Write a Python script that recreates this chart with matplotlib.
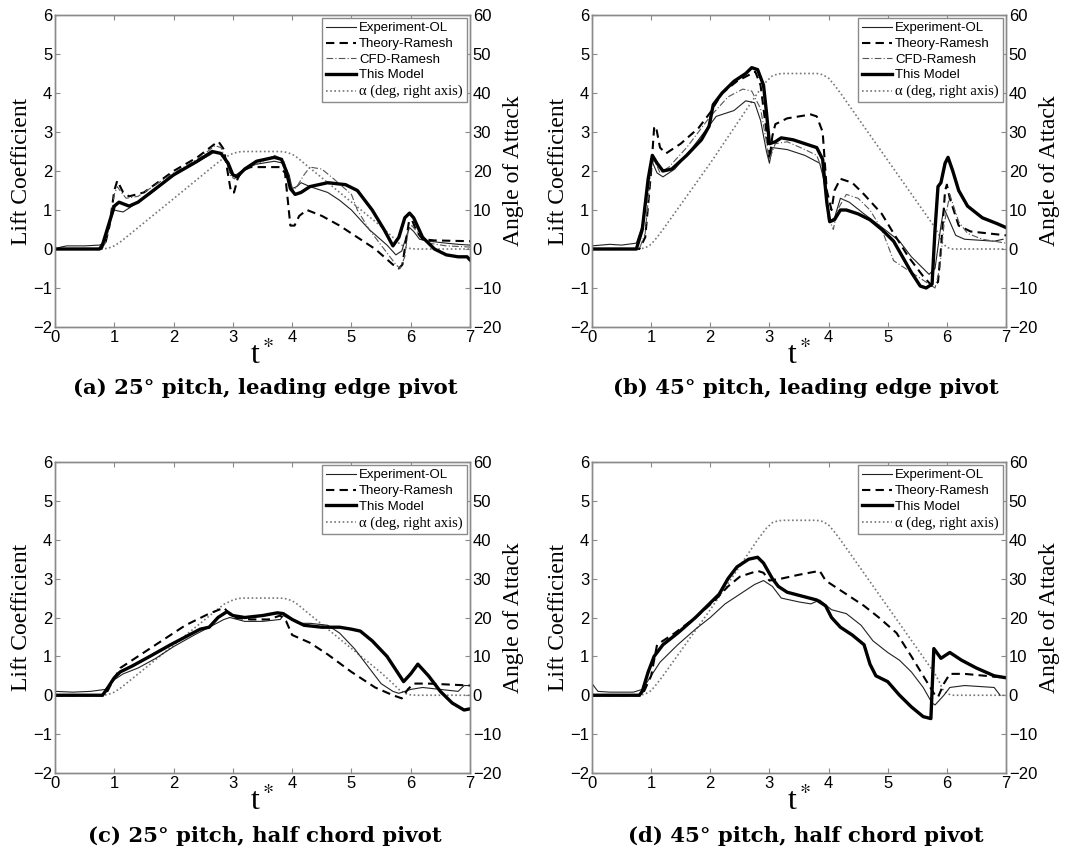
import matplotlib
matplotlib.use("Agg")
import matplotlib.pyplot as plt

# ---------------- data (t*, value) ----------------
# Panel (a): 25 deg pitch, leading edge pivot
a_exp_t = [0, 0.1, 0.2, 0.5, 0.75, 0.82, 0.9, 1.0, 1.08, 1.15, 1.3, 1.6, 2.0, 2.3, 2.6, 2.7, 2.8, 2.9, 2.95, 3.05, 3.15, 3.3, 3.5, 3.7, 3.85, 3.95, 4.0, 4.08, 4.15, 4.3, 4.6, 4.8, 5.0, 5.3, 5.6, 5.75, 5.85, 5.92, 5.98, 6.05, 6.15, 6.3, 6.6, 6.8, 7.0]
a_exp_v = [0.0, 0.05, 0.08, 0.08, 0.1, 0.15, 0.6, 1.0, 0.97, 0.95, 1.1, 1.4, 1.9, 2.15, 2.4, 2.5, 2.45, 2.2, 1.95, 1.9, 2.0, 2.15, 2.2, 2.25, 2.2, 1.9, 1.55, 1.6, 1.7, 1.6, 1.45, 1.25, 1.0, 0.5, 0.1, -0.15, -0.05, 0.3, 0.55, 0.45, 0.25, 0.2, 0.15, 0.12, 0.1]
a_the_t = [0, 0.78, 0.85, 0.92, 1.0, 1.05, 1.1, 1.15, 1.25, 1.5, 2.0, 2.4, 2.7, 2.76, 2.85, 2.92, 2.97, 3.02, 3.08, 3.15, 3.3, 3.8, 3.88, 3.93, 3.97, 4.04, 4.12, 4.25, 4.5, 4.8, 5.1, 5.4, 5.7, 5.8, 5.86, 5.92, 5.97, 6.02, 6.1, 6.2, 6.4, 7.0]
a_the_v = [0.0, 0.0, 0.15, 0.6, 1.5, 1.75, 1.6, 1.45, 1.35, 1.45, 2.0, 2.35, 2.7, 2.75, 2.55, 1.9, 1.45, 1.45, 1.8, 2.0, 2.1, 2.1, 1.95, 1.2, 0.6, 0.6, 0.85, 1.0, 0.85, 0.6, 0.3, 0.0, -0.4, -0.5, -0.4, 0.2, 0.7, 0.75, 0.45, 0.25, 0.22, 0.2]
a_cfd_t = [0, 0.78, 0.85, 0.92, 1.0, 1.05, 1.12, 1.2, 1.4, 2.0, 2.4, 2.7, 2.8, 2.9, 2.97, 3.03, 3.15, 3.5, 3.7, 3.85, 3.95, 4.02, 4.1, 4.2, 4.3, 4.5, 4.7, 5.0, 5.1, 5.3, 5.55, 5.75, 5.82, 5.9, 5.96, 6.02, 6.1, 6.3, 6.6, 7.0]
a_cfd_v = [0.0, 0.0, 0.15, 0.6, 1.4, 1.6, 1.45, 1.3, 1.35, 1.95, 2.3, 2.65, 2.6, 2.2, 1.85, 1.8, 2.0, 2.25, 2.4, 2.3, 1.8, 1.5, 1.65, 1.9, 2.1, 2.05, 1.8, 1.4, 1.0, 0.5, 0.0, -0.4, -0.5, -0.2, 0.5, 0.6, 0.45, 0.15, 0.08, 0.05]
a_mod_t = [0, 0.75, 0.8, 0.9, 1.0, 1.08, 1.25, 1.4, 2.0, 2.4, 2.65, 2.8, 2.92, 3.0, 3.07, 3.2, 3.4, 3.7, 3.82, 3.9, 3.97, 4.05, 4.15, 4.3, 4.6, 4.9, 5.1, 5.35, 5.55, 5.7, 5.8, 5.9, 5.98, 6.05, 6.2, 6.3, 6.4, 6.6, 6.8, 6.95, 7.0]
a_mod_v = [0.0, 0.0, 0.1, 0.6, 1.1, 1.2, 1.1, 1.2, 1.9, 2.25, 2.5, 2.45, 2.2, 1.9, 1.85, 2.05, 2.25, 2.35, 2.3, 2.0, 1.55, 1.4, 1.45, 1.6, 1.7, 1.65, 1.5, 1.0, 0.5, 0.08, 0.3, 0.8, 0.92, 0.8, 0.3, 0.15, 0.0, -0.15, -0.2, -0.2, -0.28]
a_alp_t = [0, 0.8, 0.9, 1.0, 1.1, 1.2, 2.0, 2.7, 2.85, 3.0, 3.1, 3.2, 3.8, 3.9, 4.0, 4.1, 4.2, 5.5, 5.7, 5.8, 5.9, 6.0, 6.1, 7.0]
a_alp_v = [0, 0, 0.2, 0.8, 1.8, 3.0, 12.9, 21.6, 23.4, 24.5, 24.9, 25, 25, 24.8, 24.3, 23.3, 22.0, 5.8, 3.0, 1.5, 0.5, 0.1, 0, 0]

# Panel (b): 45 deg pitch, leading edge pivot
b_exp_t = [0, 0.3, 0.5, 0.75, 0.85, 0.95, 1.0, 1.1, 1.2, 1.4, 1.7, 1.95, 2.1, 2.4, 2.6, 2.75, 2.85, 2.95, 3.0, 3.05, 3.3, 3.6, 3.85, 3.95, 4.0, 4.1, 4.2, 4.35, 4.6, 4.95, 5.2, 5.4, 5.7, 5.8, 5.9, 5.95, 6.05, 6.15, 6.3, 6.8, 6.95]
b_exp_v = [0.08, 0.12, 0.1, 0.15, 0.6, 1.6, 2.3, 1.95, 1.85, 2.05, 2.6, 3.1, 3.4, 3.55, 3.8, 3.75, 3.3, 2.5, 2.2, 2.6, 2.55, 2.4, 2.2, 1.6, 0.7, 0.8, 1.3, 1.2, 0.9, 0.5, 0.2, -0.2, -0.65, -0.5, 0.6, 1.05, 0.7, 0.35, 0.25, 0.2, 0.25]
b_the_t = [0, 0.8, 0.9, 1.0, 1.05, 1.08, 1.15, 1.25, 1.5, 1.8, 2.0, 2.2, 2.45, 2.7, 2.76, 2.85, 2.95, 3.0, 3.05, 3.1, 3.3, 3.7, 3.8, 3.9, 3.97, 4.05, 4.1, 4.2, 4.4, 4.6, 4.9, 5.1, 5.35, 5.6, 5.75, 5.85, 5.9, 5.97, 6.0, 6.05, 6.2, 6.4, 7.0]
b_the_v = [0.0, 0.0, 0.3, 2.0, 3.1, 3.15, 2.6, 2.45, 2.7, 3.1, 3.5, 4.0, 4.3, 4.5, 4.55, 4.2, 3.0, 2.3, 2.9, 3.2, 3.35, 3.45, 3.4, 3.0, 1.5, 1.0, 1.5, 1.8, 1.7, 1.4, 0.9, 0.4, -0.2, -0.7, -0.95, -0.85, 0.0, 1.5, 1.65, 1.3, 0.6, 0.45, 0.35]
b_cfd_t = [0, 0.8, 0.9, 1.0, 1.05, 1.15, 1.3, 1.6, 2.0, 2.3, 2.55, 2.7, 2.85, 3.0, 3.1, 3.3, 3.6, 3.8, 3.9, 4.0, 4.08, 4.15, 4.3, 4.5, 4.7, 4.9, 5.1, 5.5, 5.8, 5.88, 5.95, 6.05, 6.2, 6.35, 6.6, 7.0]
b_cfd_v = [0.0, 0.0, 0.4, 2.1, 2.3, 1.95, 2.1, 2.6, 3.4, 3.9, 4.1, 4.05, 3.6, 2.3, 2.7, 2.75, 2.55, 2.4, 2.0, 0.8, 0.5, 1.0, 1.4, 1.3, 1.0, 0.5, -0.3, -0.7, -1.0, -0.5, 0.6, 1.4, 0.7, 0.4, 0.25, 0.15]
b_mod_t = [0, 0.75, 0.85, 0.95, 1.02, 1.1, 1.2, 1.35, 1.6, 1.85, 1.98, 2.05, 2.2, 2.4, 2.6, 2.7, 2.8, 2.9, 2.95, 3.0, 3.1, 3.2, 3.4, 3.6, 3.8, 3.9, 3.97, 4.02, 4.1, 4.2, 4.3, 4.5, 4.7, 4.9, 5.1, 5.25, 5.4, 5.55, 5.65, 5.75, 5.8, 5.85, 5.9, 5.97, 6.02, 6.1, 6.2, 6.35, 6.6, 6.85, 7.0]
b_mod_v = [0.0, 0.0, 0.5, 1.8, 2.4, 2.2, 2.0, 2.05, 2.4, 2.8, 3.15, 3.7, 4.0, 4.3, 4.5, 4.65, 4.6, 4.2, 3.5, 2.7, 2.75, 2.85, 2.8, 2.7, 2.6, 2.3, 1.2, 0.7, 0.75, 1.0, 1.0, 0.9, 0.75, 0.5, 0.2, -0.2, -0.6, -0.95, -1.0, -0.9, 0.5, 1.6, 1.7, 2.2, 2.35, 2.0, 1.5, 1.1, 0.8, 0.65, 0.55]
b_alp_t = [0, 0.8, 0.9, 1.0, 1.1, 1.2, 2.0, 2.8, 2.95, 3.05, 3.15, 3.25, 3.8, 3.9, 4.0, 4.1, 4.2, 5.8, 5.87, 5.93, 6.0, 6.1, 7.0]
b_alp_v = [0, 0, 0.3, 1.2, 3.0, 5.0, 22.0, 40.0, 43.0, 44.4, 44.9, 45, 45, 44.7, 43.8, 42.0, 40.0, 5.5, 3.5, 1.5, 0.4, 0, 0]

# Panel (c): 25 deg pitch, half chord pivot
c_exp_t = [0, 0.3, 0.6, 0.85, 1.0, 1.15, 1.4, 1.7, 2.0, 2.35, 2.6, 2.85, 2.95, 3.2, 3.5, 3.8, 3.85, 4.1, 4.3, 4.6, 4.8, 5.05, 5.25, 5.5, 5.7, 5.8, 5.9, 6.0, 6.2, 6.5, 6.8, 6.9, 7.0]
c_exp_v = [0.1, 0.08, 0.1, 0.15, 0.4, 0.55, 0.7, 0.95, 1.25, 1.55, 1.75, 1.95, 2.0, 1.9, 1.9, 1.95, 2.05, 1.85, 1.85, 1.8, 1.6, 1.2, 0.8, 0.3, 0.1, 0.05, 0.1, 0.15, 0.2, 0.15, 0.1, 0.25, 0.25]
c_the_t = [0, 0.85, 0.95, 1.1, 1.4, 1.8, 2.2, 2.6, 2.85, 3.0, 3.3, 3.6, 3.8, 3.9, 4.0, 4.3, 4.6, 5.0, 5.4, 5.7, 5.85, 5.95, 6.05, 6.3, 7.0]
c_the_v = [0.0, 0.0, 0.3, 0.7, 1.0, 1.4, 1.8, 2.1, 2.25, 2.0, 1.95, 1.95, 2.05, 1.9, 1.55, 1.35, 1.05, 0.6, 0.2, 0.0, -0.08, 0.15, 0.3, 0.3, 0.25]
c_mod_t = [0, 0.8, 0.85, 1.0, 1.1, 1.3, 1.6, 1.95, 2.2, 2.45, 2.6, 2.75, 2.85, 2.9, 3.0, 3.2, 3.5, 3.75, 3.85, 4.0, 4.2, 4.5, 4.8, 5.0, 5.15, 5.35, 5.6, 5.88, 6.0, 6.12, 6.3, 6.5, 6.7, 6.9, 7.0]
c_mod_v = [0.0, 0.0, 0.1, 0.45, 0.6, 0.75, 1.0, 1.3, 1.5, 1.7, 1.75, 2.0, 2.1, 2.15, 2.05, 2.0, 2.05, 2.12, 2.1, 1.95, 1.8, 1.75, 1.75, 1.7, 1.65, 1.4, 1.0, 0.35, 0.55, 0.8, 0.5, 0.1, -0.2, -0.38, -0.35]
c_alp_t = a_alp_t
c_alp_v = a_alp_v

# Panel (d): 45 deg pitch, half chord pivot
d_exp_t = [0, 0.1, 0.3, 0.7, 0.85, 1.0, 1.15, 1.45, 1.75, 2.0, 2.25, 2.5, 2.75, 2.9, 3.05, 3.2, 3.5, 3.7, 3.85, 4.05, 4.3, 4.55, 4.75, 5.0, 5.2, 5.4, 5.6, 5.75, 5.8, 5.95, 6.05, 6.3, 6.8, 6.9]
d_exp_v = [0.3, 0.1, 0.08, 0.08, 0.15, 0.5, 0.85, 1.3, 1.7, 2.0, 2.35, 2.6, 2.85, 2.95, 2.8, 2.5, 2.4, 2.35, 2.45, 2.2, 2.1, 1.8, 1.4, 1.1, 0.9, 0.6, 0.2, -0.2, -0.25, 0.0, 0.2, 0.25, 0.2, 0.0]
d_the_t = [0, 0.85, 1.0, 1.1, 1.4, 1.75, 2.05, 2.3, 2.5, 2.8, 2.9, 3.0, 3.2, 3.5, 3.85, 3.95, 4.2, 4.6, 4.85, 5.15, 5.4, 5.6, 5.8, 5.85, 5.95, 6.05, 6.3, 7.0]
d_the_v = [0.0, 0.0, 0.5, 1.3, 1.6, 2.0, 2.4, 2.8, 3.05, 3.2, 3.15, 2.95, 3.0, 3.1, 3.2, 2.95, 2.7, 2.3, 2.0, 1.6, 1.0, 0.5, 0.0, -0.05, 0.3, 0.55, 0.55, 0.45]
d_mod_t = [0, 0.8, 0.85, 0.95, 1.05, 1.2, 1.45, 1.75, 1.95, 2.15, 2.3, 2.45, 2.65, 2.8, 2.9, 3.05, 3.15, 3.3, 3.55, 3.8, 3.95, 4.05, 4.2, 4.4, 4.6, 4.7, 4.8, 5.0, 5.2, 5.4, 5.6, 5.73, 5.78, 5.9, 6.05, 6.25, 6.5, 6.8, 7.0]
d_mod_v = [0.0, 0.0, 0.1, 0.6, 1.0, 1.3, 1.6, 2.0, 2.3, 2.6, 3.0, 3.3, 3.5, 3.55, 3.4, 3.0, 2.8, 2.65, 2.55, 2.45, 2.3, 2.0, 1.75, 1.55, 1.3, 0.8, 0.5, 0.35, 0.0, -0.3, -0.55, -0.6, 1.2, 0.95, 1.1, 0.9, 0.7, 0.5, 0.45]
d_alp_t = b_alp_t
d_alp_v = b_alp_v

captions = ["(a) 25° pitch, leading edge pivot",
            "(b) 45° pitch, leading edge pivot",
            "(c) 25° pitch, half chord pivot",
            "(d) 45° pitch, half chord pivot"]
legend_labels = ["Experiment-OL", "Theory-Ramesh", "CFD-Ramesh", "This Model", "α (deg, right axis)"]

# ---------------- figure ----------------
fig = plt.figure(figsize=(10.7, 8.52), dpi=100)
W, H = 1070, 852
boxes = [(55, 15, 470, 327), (592, 15, 1006, 327), (55, 462, 470, 773), (592, 462, 1006, 773)]
cap_pos = [(265, 388), (806, 388), (265, 836), (806, 836)]

panels = [
    dict(exp=(a_exp_t, a_exp_v), the=(a_the_t, a_the_v), cfd=(a_cfd_t, a_cfd_v), mod=(a_mod_t, a_mod_v), alp=(a_alp_t, a_alp_v)),
    dict(exp=(b_exp_t, b_exp_v), the=(b_the_t, b_the_v), cfd=(b_cfd_t, b_cfd_v), mod=(b_mod_t, b_mod_v), alp=(b_alp_t, b_alp_v)),
    dict(exp=(c_exp_t, c_exp_v), the=(c_the_t, c_the_v), cfd=None, mod=(c_mod_t, c_mod_v), alp=(c_alp_t, c_alp_v)),
    dict(exp=(d_exp_t, d_exp_v), the=(d_the_t, d_the_v), cfd=None, mod=(d_mod_t, d_mod_v), alp=(d_alp_t, d_alp_v)),
]

sans = "Liberation Sans"
serif = "Liberation Serif"
spine_c = "#8a8a8a"
alpha_c = "#777777"

for i, p in enumerate(panels):
    x0, y0, x1, y1 = boxes[i]
    ax = fig.add_axes([x0 / W, 1 - y1 / H, (x1 - x0) / W, (y1 - y0) / H])
    ax2 = ax.twinx()
    handles = []
    h1, = ax.plot(*p["exp"], color="#222222", lw=0.8)
    h2, = ax.plot(*p["the"], color="black", lw=1.5, ls=(0, (4, 2.5)))
    handles += [h1, h2]
    labels = [legend_labels[0], legend_labels[1]]
    if p["cfd"] is not None:
        h3, = ax.plot(*p["cfd"], color="#555555", lw=0.8, ls=(0, (6, 2, 1, 2)))
        handles.append(h3)
        labels.append(legend_labels[2])
    h4, = ax.plot(*p["mod"], color="black", lw=2.4)
    handles.append(h4)
    labels.append(legend_labels[3])
    h5, = ax2.plot(*p["alp"], color=alpha_c, lw=1.2, ls=(0, (1, 1.5)))
    handles.append(h5)
    labels.append(legend_labels[4])

    ax.set_xlim(0, 7)
    ax.set_ylim(-2, 6)
    ax2.set_ylim(-20, 60)
    ax.set_xticks(range(0, 8))
    ax.set_yticks(range(-2, 7))
    ax2.set_yticks(range(-20, 61, 10))
    ax.set_yticklabels(["\u22122", "\u22121", "0", "1", "2", "3", "4", "5", "6"])
    ax2.set_yticklabels(["\u221220", "\u221210", "0", "10", "20", "30", "40", "50", "60"])
    for a in (ax, ax2):
        for s in a.spines.values():
            s.set_color(spine_c)
            s.set_linewidth(1.0)
        a.tick_params(direction="in", length=3.5, width=0.8, color=spine_c, labelsize=12, pad=2)
        for lab in a.get_xticklabels() + a.get_yticklabels():
            lab.set_fontfamily(sans)
    ax.tick_params(top=True, right=False)
    ax2.tick_params(top=False, right=True, left=False)
    ax.set_ylabel("Lift Coefficient", fontfamily=serif, fontsize=17, labelpad=1)
    ax2.set_ylabel("Angle of Attack", fontfamily=serif, fontsize=17, labelpad=1)
    ax.set_xlabel("t$^*$", fontfamily=serif, fontsize=23, labelpad=-3)
    ax.xaxis.label.set_math_fontfamily("stix")

    leg = ax.legend(handles, labels, loc="upper right", frameon=True, fancybox=False,
                    edgecolor=spine_c, framealpha=1, handlelength=2.3, handletextpad=0.2,
                    borderpad=0.3, labelspacing=0.26, borderaxespad=0.25,
                    prop={"family": sans, "size": 9.5})
    leg.get_frame().set_linewidth(1.0)
    leg.get_texts()[-1].set_fontfamily(serif)
    leg.get_texts()[-1].set_fontsize(10.5)
    leg.set_zorder(10)
    ax.set_zorder(ax2.get_zorder() + 1)
    ax.patch.set_visible(False)

    cx, cy = cap_pos[i]
    fig.text(cx / W, 1 - cy / H, captions[i], ha="center", va="center",
             fontfamily="DejaVu Serif", fontweight="bold", fontsize=15.3)

fig.savefig("out.png", dpi=100)
